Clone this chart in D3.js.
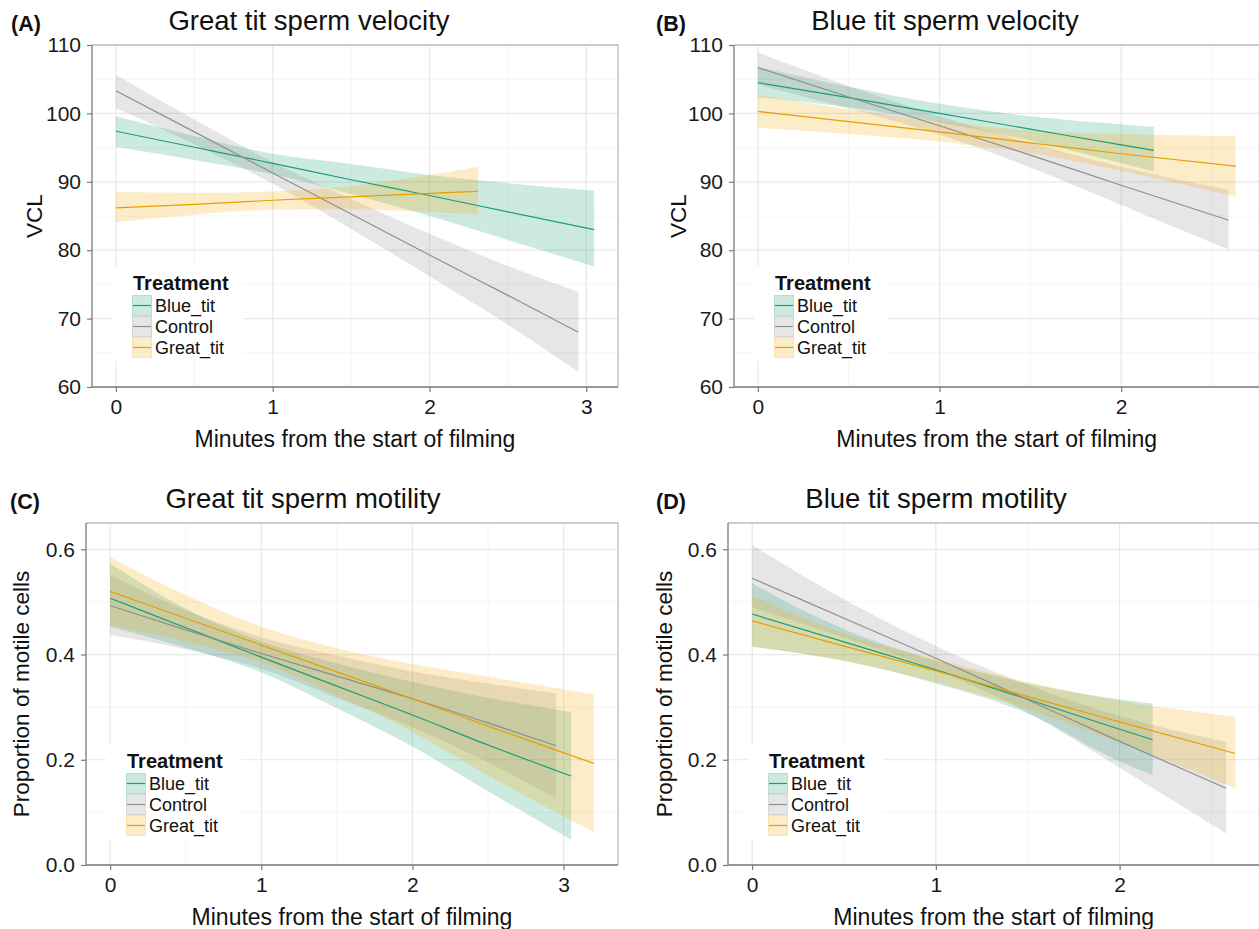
<!DOCTYPE html>
<html>
<head>
<meta charset="utf-8">
<script src="https://cdn.jsdelivr.net/npm/d3@7"></script>
<style>
  html, body { margin: 0; padding: 0; background: #fff; }
  svg { display: block; font-family: "Liberation Sans", Arial, sans-serif; }
</style>
</head>
<body>
<svg id="chart" width="1259" height="929"></svg>
<script>
// rows are [minutes, fit, lower, upper]
const treatments = ["Blue_tit", "Control", "Great_tit"];

// (A) Great tit sperm velocity
const velGreatBlue = [[0, 97.4, 95.1, 99.6], [0.5, 95.05, 93.2, 96.7], [1, 92.7, 91.1, 94.1], [1.5, 90.3, 88.2, 92.6], [2, 88.0, 85.0, 91.0], [2.5, 85.6, 81.5, 89.8], [3.05, 83.0, 77.6, 88.7]];
const velGreatControl = [[0, 103.3, 100.8, 105.6], [0.5, 97.3, 95.5, 99.1], [1, 91.3, 89.7, 92.9], [1.5, 85.3, 83.1, 87.5], [2, 79.3, 76.2, 82.4], [2.5, 73.4, 69.1, 77.7], [2.95, 68.0, 62.2, 73.9]];
const velGreatGreat = [[0, 86.2, 84.1, 88.5], [0.5, 86.7, 85.2, 88.4], [1, 87.3, 85.9, 88.6], [1.5, 87.8, 86.0, 89.4], [2, 88.3, 85.6, 91.0], [2.31, 88.6, 85.2, 92.2]];

// (B) Blue tit sperm velocity
const velBlueBlue = [[0, 104.5, 102.4, 106.8], [0.5, 102.3, 100.9, 103.9], [1, 100.0, 98.7, 101.4], [1.5, 97.7, 96.0, 99.6], [2, 95.4, 92.7, 98.4], [2.18, 94.6, 91.5, 98.0]];
const velBlueControl = [[0, 106.7, 104.2, 108.9], [0.5, 102.4, 100.7, 104.0], [1, 98.2, 96.9, 99.6], [1.5, 93.9, 92.1, 95.7], [2, 89.5, 86.6, 92.2], [2.59, 84.4, 80.1, 88.8]];
const velBlueGreat = [[0, 100.3, 97.9, 102.7], [0.5, 98.8, 97.0, 100.6], [1, 97.3, 95.9, 98.8], [1.5, 95.7, 94.2, 97.5], [2, 94.1, 91.6, 97.0], [2.63, 92.3, 87.8, 96.7]];

// (C) Great tit sperm motility
const motGreatBlue = [[0, 0.507, 0.453, 0.573], [0.5, 0.451, 0.413, 0.487], [1, 0.395, 0.366, 0.425], [1.5, 0.340, 0.298, 0.383], [2, 0.285, 0.225, 0.348], [2.5, 0.228, 0.140, 0.318], [3.05, 0.169, 0.048, 0.291]];
const motGreatControl = [[0, 0.493, 0.437, 0.551], [0.5, 0.447, 0.410, 0.484], [1, 0.402, 0.373, 0.433], [1.5, 0.359, 0.318, 0.398], [2, 0.316, 0.262, 0.368], [2.5, 0.270, 0.195, 0.345], [2.95, 0.227, 0.127, 0.326]];
const motGreatGreat = [[0, 0.520, 0.455, 0.585], [0.5, 0.469, 0.425, 0.513], [1, 0.418, 0.385, 0.453], [1.5, 0.367, 0.322, 0.412], [2, 0.316, 0.253, 0.382], [2.5, 0.264, 0.170, 0.358], [3.2, 0.193, 0.063, 0.324]];

// (D) Blue tit sperm motility
const motBlueBlue = [[0, 0.477, 0.415, 0.535], [0.5, 0.424, 0.388, 0.448], [1, 0.371, 0.345, 0.388], [1.5, 0.315, 0.288, 0.345], [2, 0.258, 0.197, 0.315], [2.18, 0.238, 0.171, 0.307]];
const motBlueControl = [[0, 0.545, 0.490, 0.608], [0.5, 0.469, 0.432, 0.505], [1, 0.393, 0.371, 0.416], [1.5, 0.314, 0.290, 0.342], [2, 0.235, 0.185, 0.283], [2.58, 0.146, 0.060, 0.234]];
const motBlueGreat = [[0, 0.464, 0.415, 0.511], [0.5, 0.416, 0.388, 0.440], [1, 0.369, 0.347, 0.391], [1.5, 0.320, 0.296, 0.348], [2, 0.272, 0.233, 0.312], [2.63, 0.212, 0.146, 0.282]];

const velTicks = [60, 70, 80, 90, 100, 110];
const velMinor = [65, 75, 85, 95, 105];
const motTicks = [0, 0.2, 0.4, 0.6];
const motMinor = [0.1, 0.3, 0.5];

const lineColor = { Blue_tit: "#1b9e77", Control: "#8f8f8f", Great_tit: "#e69f00" };
const fillColor = { Blue_tit: "#1b9e77", Control: "#808080", Great_tit: "#f0a800" };
const fillAlpha = { Blue_tit: 0.22, Control: 0.2, Great_tit: 0.22 };

const panels = [
  {
    tag: "(A)", title: "Great tit sperm velocity", yTitle: "VCL",
    left: 92, top: 45, right: 618, bottom: 387,
    xMax: 3.05, yDomain: [60, 110], yTicks: velTicks, yMinor: velMinor, fmt: d3.format("d"),
    tagX: 11, titleX: 309, yTitleX: 42, legendBgW: 151,
    series: [velGreatBlue, velGreatControl, velGreatGreat]
  },
  {
    tag: "(B)", title: "Blue tit sperm velocity", yTitle: "VCL",
    left: 734, top: 45, right: 1259.5, bottom: 387,
    xMax: 2.63, yDomain: [60, 110], yTicks: velTicks, yMinor: velMinor, fmt: d3.format("d"),
    tagX: 656, titleX: 945, yTitleX: 686, legendBgW: 153,
    series: [velBlueBlue, velBlueControl, velBlueGreat]
  },
  {
    tag: "(C)", title: "Great tit sperm motility", yTitle: "Proportion of motile cells",
    left: 86, top: 523, right: 618, bottom: 865,
    xMax: 3.2, yDomain: [0, 0.65], yTicks: motTicks, yMinor: motMinor, fmt: d3.format(".1f"),
    tagX: 10, titleX: 303, yTitleX: 29, legendBgW: 155,
    series: [motGreatBlue, motGreatControl, motGreatGreat]
  },
  {
    tag: "(D)", title: "Blue tit sperm motility", yTitle: "Proportion of motile cells",
    left: 728, top: 523, right: 1259.5, bottom: 865,
    xMax: 2.63, yDomain: [0, 0.65], yTicks: motTicks, yMinor: motMinor, fmt: d3.format(".1f"),
    tagX: 656, titleX: 936, yTitleX: 672, legendBgW: 155,
    series: [motBlueBlue, motBlueControl, motBlueGreat]
  }
];

const svg = d3.select("#chart");

function drawPanel(p) {
  const g = svg.append("g");
  const pad = p.xMax * 0.05;
  const x = d3.scaleLinear().domain([-pad, p.xMax + pad]).range([p.left, p.right]);
  const y = d3.scaleLinear().domain(p.yDomain).range([p.bottom, p.top]);

  const xTicks = d3.range(0, Math.floor(p.xMax) + 1);
  const xMinor = d3.range(0.5, p.xMax + pad, 1);

  //=== grid ===
  const grid = g.append("g");
  grid.selectAll(".ym").data(p.yMinor).join("line")
    .attr("x1", p.left).attr("x2", p.right)
    .attr("y1", (d) => y(d)).attr("y2", (d) => y(d))
    .attr("stroke", "#f4f4f4").attr("stroke-width", 1);
  grid.selectAll(".xm").data(xMinor).join("line")
    .attr("x1", (d) => x(d)).attr("x2", (d) => x(d))
    .attr("y1", p.top).attr("y2", p.bottom)
    .attr("stroke", "#f4f4f4").attr("stroke-width", 1);
  grid.selectAll(".yM").data(p.yTicks).join("line")
    .attr("x1", p.left).attr("x2", p.right)
    .attr("y1", (d) => y(d)).attr("y2", (d) => y(d))
    .attr("stroke", "#e8e8e8").attr("stroke-width", 1.2);
  grid.selectAll(".xM").data(xTicks).join("line")
    .attr("x1", (d) => x(d)).attr("x2", (d) => x(d))
    .attr("y1", p.top).attr("y2", p.bottom)
    .attr("stroke", "#e8e8e8").attr("stroke-width", 1.2);

  //=== ribbons ===
  const area = d3.area()
    .x((d) => x(d[0]))
    .y0((d) => y(d[2]))
    .y1((d) => y(d[3]))
    .curve(d3.curveMonotoneX);
  p.series.forEach((rows, i) => {
    const t = treatments[i];
    g.append("path").datum(rows)
      .attr("d", area)
      .attr("fill", fillColor[t])
      .attr("fill-opacity", fillAlpha[t]);
  });

  //=== fitted lines ===
  const line = d3.line()
    .x((d) => x(d[0]))
    .y((d) => y(d[1]))
    .curve(d3.curveMonotoneX);
  p.series.forEach((rows, i) => {
    const t = treatments[i];
    g.append("path").datum(rows)
      .attr("d", line)
      .attr("fill", "none")
      .attr("stroke", lineColor[t])
      .attr("stroke-width", 1.2);
  });

  //=== legend ===
  const lx = p.left + 40;
  const ly = p.top + 250;
  const keyH = 21;
  const leg = g.append("g");
  leg.append("rect")
    .attr("x", p.left + 20).attr("y", p.top + 221)
    .attr("width", p.legendBgW - 20).attr("height", 95)
    .attr("fill", "#fff");
  leg.append("text")
    .attr("x", lx + 1).attr("y", ly - 5)
    .attr("font-size", 20).attr("font-weight", "bold")
    .attr("fill", "#111")
    .text("Treatment");
  treatments.forEach((t, i) => {
    const ky = ly + i * keyH;
    leg.append("rect")
      .attr("x", lx).attr("y", ky).attr("width", 20).attr("height", keyH)
      .attr("fill", "#fff");
    leg.append("rect")
      .attr("x", lx + 0.5).attr("y", ky + 0.5).attr("width", 19).attr("height", keyH - 1)
      .attr("fill", fillColor[t]).attr("fill-opacity", fillAlpha[t])
      .attr("stroke", fillColor[t]).attr("stroke-opacity", 0.25);
    leg.append("line")
      .attr("x1", lx + 1).attr("x2", lx + 19)
      .attr("y1", ky + keyH / 2).attr("y2", ky + keyH / 2)
      .attr("stroke", lineColor[t]).attr("stroke-width", 1.2);
    leg.append("text")
      .attr("x", lx + 23).attr("y", ky + 17)
      .attr("font-size", 18).attr("fill", "#111")
      .text(t);
  });

  //=== panel border ===
  g.append("path")
    .attr("d", `M${p.left},${p.top}H${p.right}V${p.bottom}`)
    .attr("fill", "none").attr("stroke", "#bdbdbd").attr("stroke-width", 1.3);

  //=== axes ===
  const yAxis = g.append("g")
    .attr("transform", `translate(${p.left},0)`)
    .call(d3.axisLeft(y).tickValues(p.yTicks).tickFormat(p.fmt).tickSize(5).tickPadding(6).tickSizeOuter(0));
  const xAxis = g.append("g")
    .attr("transform", `translate(0,${p.bottom})`)
    .call(d3.axisBottom(x).tickValues(xTicks).tickFormat(d3.format("d")).tickSize(5).tickPadding(7).tickSizeOuter(0));
  [yAxis, xAxis].forEach((a) => {
    a.select(".domain").attr("stroke", "#7a7a7a").attr("stroke-width", 1.3);
    a.selectAll(".tick line").attr("stroke", "#7a7a7a").attr("stroke-width", 1.2);
    a.selectAll(".tick text").attr("font-size", 21).attr("fill", "#1a1a1a")
      .attr("font-family", "Liberation Sans, Arial, sans-serif");
  });
  xAxis.select(".domain").attr("d", `M${p.left},0H${p.right}`);
  yAxis.select(".domain").attr("d", `M0,${p.top}V${p.bottom}`);

  //=== titles ===
  g.append("text")
    .attr("x", p.tagX).attr("y", p.top - 14)
    .attr("font-size", 21.5).attr("font-weight", "bold").attr("fill", "#111")
    .text(p.tag);
  g.append("text")
    .attr("x", p.titleX).attr("y", p.top - 15)
    .attr("text-anchor", "middle")
    .attr("font-size", 27.5).attr("fill", "#111")
    .text(p.title);
  g.append("text")
    .attr("x", (p.left + p.right) / 2).attr("y", p.bottom + 60)
    .attr("text-anchor", "middle")
    .attr("font-size", 23).attr("fill", "#111")
    .text("Minutes from the start of filming");
  g.append("text")
    .attr("transform", `translate(${p.yTitleX},${(p.top + p.bottom) / 2}) rotate(-90)`)
    .attr("text-anchor", "middle")
    .attr("font-size", 22.5).attr("fill", "#111")
    .text(p.yTitle);
}

panels.forEach(drawPanel);
</script>
</body>
</html>
